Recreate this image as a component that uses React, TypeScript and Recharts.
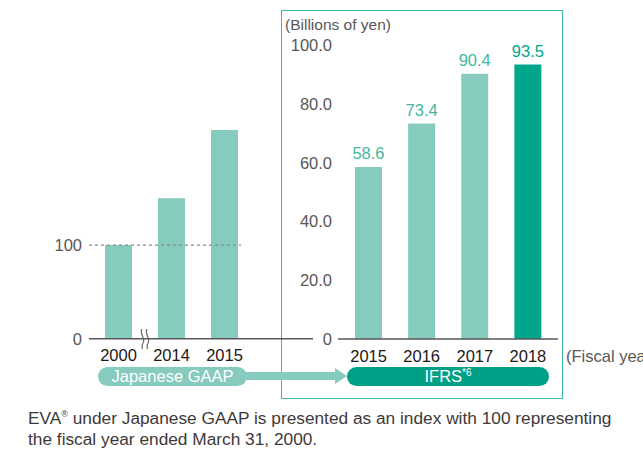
import { BarChart, Bar, XAxis, YAxis, Cell, LabelList, ReferenceLine } from 'recharts';

// Japanese GAAP (index, FY2000 = 100)
const gaapYears = ['2000', '2014', '2015'];
const gaapIndex = [100, 150, 223];
const gaapTicks = [0, 100];
const gaapBase = 100;

// IFRS (billions of yen)
const ifrsYears = ['2015', '2016', '2017', '2018'];
const ifrsEva = [58.6, 73.4, 90.4, 93.5];
const ifrsTicks = [0, 20, 40, 60, 80, 100];

const LIGHT = '#86cbbe';
const DARK = '#00a68c';
const LABEL_TEAL = '#3fb8a0';
const AXIS = '#595757';
const FONT = '"Liberation Sans", Arial, sans-serif';
const FS = 16.5;

const gaapData = gaapYears.map((year, i) => ({ year, value: gaapIndex[i] }));
const ifrsData = ifrsYears.map((year, i) => ({ year, value: ifrsEva[i] }));

function ValueLabel(props: any) {
    const { x, y, width, value } = props;
    const isLast = value === ifrsEva[ifrsEva.length - 1];
    return (
        <text
            x={x + width / 2}
            y={y - 8}
            textAnchor="middle"
            fill={isLast ? DARK : LABEL_TEAL}
            fontSize={FS}
        >
            {Number(value).toFixed(1)}
        </text>
    );
}

const layer: React.CSSProperties = { position: 'absolute', left: 0, top: 0 };

export default function App() {
    return (
        <div
            style={{
                position: 'fixed',
                left: 0,
                top: 0,
                width: 643,
                height: 450,
                overflow: 'hidden',
                background: '#fff',
                fontFamily: FONT,
            }}
        >
            {/* IFRS frame */}
            <div
                style={{
                    position: 'absolute',
                    left: 281,
                    top: 10,
                    width: 282,
                    height: 389,
                    border: '1.5px solid #3db8a1',
                    boxSizing: 'border-box',
                }}
            />

            <div style={layer}>
                <BarChart
                    width={643}
                    height={450}
                    data={gaapData}
                    margin={{ top: 104.7, right: 330, bottom: 81.3, left: 29 }}
                >
                    <XAxis
                        dataKey="year"
                        interval={0}
                        padding={{ left: 3, right: 62 }}
                        tickSize={0}
                        tickMargin={11}
                        axisLine={{ stroke: AXIS, strokeWidth: 1.5 }}
                        tick={{ fill: '#231815', fontSize: FS }}
                        height={30}
                    />
                    <YAxis
                        width={60}
                        domain={[0, 250]}
                        ticks={gaapTicks}
                        tickSize={0}
                        tickMargin={7}
                        axisLine={false}
                        tick={{ fill: AXIS, fontSize: FS }}
                    />
                    <Bar dataKey="value" barSize={27} fill={LIGHT} isAnimationActive={false} />
                </BarChart>
            </div>

            {/* dotted index-100 guide, same y scale as the GAAP chart */}
            <div style={layer}>
                <BarChart
                    width={643}
                    height={450}
                    data={gaapData}
                    margin={{ top: 104.7, right: 402, bottom: 111.3, left: 89 }}
                >
                    <XAxis dataKey="year" hide />
                    <YAxis domain={[0, 250]} hide />
                    <Bar dataKey="value" fill="transparent" isAnimationActive={false} />
                    <ReferenceLine
                        y={gaapBase}
                        stroke="#8a8a8a"
                        strokeWidth={1.2}
                        strokeDasharray="3 3"
                    />
                </BarChart>
            </div>

            <div style={layer}>
                <BarChart
                    width={643}
                    height={450}
                    data={ifrsData}
                    margin={{ top: 45.5, right: 85, bottom: 81, left: 278 }}
                >
                    <XAxis
                        dataKey="year"
                        interval={0}
                        padding={{ left: 4, right: 3.5 }}
                        tickSize={0}
                        tickMargin={11}
                        axisLine={{ stroke: AXIS, strokeWidth: 1.5 }}
                        tick={{ fill: '#231815', fontSize: FS }}
                        height={30}
                    />
                    <YAxis
                        width={60}
                        domain={[0, 100]}
                        ticks={ifrsTicks}
                        tickSize={0}
                        tickMargin={6}
                        axisLine={false}
                        tick={{ fill: AXIS, fontSize: FS }}
                        tickFormatter={(v: number) => (v === 0 ? '0' : v.toFixed(1))}
                    />
                    <Bar dataKey="value" barSize={27} isAnimationActive={false}>
                        {ifrsData.map((d, i) => (
                            <Cell key={d.year} fill={i === ifrsData.length - 1 ? DARK : LIGHT} />
                        ))}
                        <LabelList dataKey="value" content={ValueLabel} />
                    </Bar>
                </BarChart>
            </div>

            {/* axis break mark */}
            <svg style={{ position: 'absolute', left: 138, top: 328 }} width={14} height={22}>
                <path d="M4 1 C1 6, 8 10, 5 15 C3 18, 5 20, 4 21" fill="none" stroke="#666" strokeWidth={1.2} />
                <path d="M9 1 C6 6, 13 10, 10 15 C8 18, 10 20, 9 21" fill="none" stroke="#666" strokeWidth={1.2} />
            </svg>

            <div
                style={{
                    position: 'absolute',
                    left: 285,
                    top: 16,
                    fontSize: 15.5,
                    color: AXIS,
                    whiteSpace: 'nowrap',
                }}
            >
                (Billions of yen)
            </div>

            <div
                style={{
                    position: 'absolute',
                    left: 566,
                    top: 347,
                    fontSize: FS,
                    color: AXIS,
                    whiteSpace: 'nowrap',
                }}
            >
                (Fiscal year)
            </div>

            {/* Japanese GAAP pill + arrow */}
            <svg style={{ position: 'absolute', left: 0, top: 360 }} width={643} height={30}>
                <rect x={240} y={12} width={96} height={8} fill={LIGHT} />
                <polygon points="335,8 347,16 335,24" fill={LIGHT} />
            </svg>
            <div
                style={{
                    position: 'absolute',
                    left: 98,
                    top: 367,
                    width: 149,
                    height: 19,
                    borderRadius: 10,
                    background: LIGHT,
                    color: '#fff',
                    fontSize: FS,
                    lineHeight: '19px',
                    textAlign: 'center',
                }}
            >
                Japanese GAAP
            </div>
            <div
                style={{
                    position: 'absolute',
                    left: 347,
                    top: 367,
                    width: 202,
                    height: 19,
                    borderRadius: 10,
                    background: '#00a086',
                    color: '#fff',
                    fontSize: FS,
                    lineHeight: '19px',
                    textAlign: 'center',
                }}
            >
                IFRS<sup style={{ fontSize: 10, lineHeight: 0 }}>*6</sup>
            </div>

            <div
                style={{
                    position: 'absolute',
                    left: 28,
                    top: 408,
                    fontSize: 17.3,
                    lineHeight: '20.5px',
                    color: '#3e3a39',
                    whiteSpace: 'nowrap',
                }}
            >
                EVA<sup style={{ fontSize: 9, lineHeight: 0 }}>®</sup> under Japanese GAAP is presented as an index with 100 representing
                <br />
                the fiscal year ended March 31, 2000.
            </div>
        </div>
    );
}
